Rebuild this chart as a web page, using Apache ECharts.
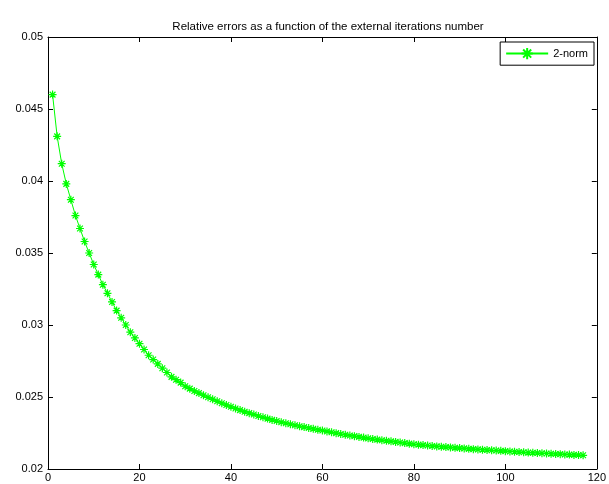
<!DOCTYPE html>
<html>
<head>
<meta charset="utf-8">
<script src="https://cdn.jsdelivr.net/npm/echarts@6/dist/echarts.min.js"></script>
<style>html,body{margin:0;padding:0;background:#fff}#c{width:609px;height:484px}</style>
</head>
<body>
<div id="c"></div>
<script>
var titleText = 'Relative errors as a function of the external iterations number';
var seriesName = '2-norm';
var iterations = [];
for (var i = 1; i <= 117; i++) iterations.push(i);
var errors2norm = [
0.0460,0.0431,0.0412,0.0398,0.0387,0.0376,0.0367,0.0358,0.0350,0.0342,
0.0335,0.0328,0.0322,0.0316,0.0310,0.0305,0.0300,0.0295,0.0291,0.0287,
0.0283,0.0279,0.0276,0.0273,0.0270,0.0267,0.0264,0.0262,0.0260,0.02575,
0.02558,0.02542,0.02527,0.02512,0.02498,0.02484,0.02470,0.02457,0.02444,0.02432,
0.02420,0.02409,0.02398,0.02388,0.02378,0.02368,0.02359,0.02350,0.02341,0.02333,
0.02325,0.02318,0.02311,0.02304,0.02297,0.02291,0.02285,0.02279,0.02273,0.02267,
0.02261,0.02255,0.02249,0.02243,0.02238,0.02233,0.02228,0.02223,0.02218,0.02213,
0.02208,0.02204,0.02200,0.02196,0.02192,0.02188,0.02184,0.02180,0.02176,0.02172,
0.02169,0.02166,0.02163,0.02160,0.02157,0.02155,0.02152,0.02150,0.02147,0.02145,
0.02143,0.02140,0.02138,0.02136,0.02134,0.02132,0.02130,0.02128,0.02126,0.02124,
0.02122,0.02120,0.02118,0.02116,0.02114,0.02113,0.02111,0.02109,0.02108,0.02106,
0.02104,0.02103,0.02101,0.02100,0.02098,0.02097,0.02095
];
var xMin = 0, xMax = 120, xStep = 20;
var yMin = 0.02, yMax = 0.05, yStep = 0.005;

var pts = iterations.map(function (x, k) { return [x, errors2norm[k]]; });
var star = 'path://M0,-5L0,5M-5,0L5,0M-3.6,-3.6L3.6,3.6M-3.6,3.6L3.6,-3.6';
var FONT = 'Liberation Sans';
var axisCommon = {
  axisLine: { show: true, onZero: false, lineStyle: { color: '#000', width: 1 } },
  axisTick: { show: true, inside: true, length: 5, lineStyle: { color: '#000' } },
  splitLine: { show: false }
};
function ax(extra) { var o = JSON.parse(JSON.stringify(axisCommon)); for (var k in extra) o[k] = extra[k]; return o; }

var chart = echarts.init(document.getElementById('c'), null, { renderer: 'canvas' });
chart.setOption({
  animation: false,
  backgroundColor: '#fff',
  title: {
    text: titleText, left: 323, top: 16, textAlign: 'center',
    textStyle: { fontFamily: FONT, fontSize: 11.5, fontWeight: 'normal', color: '#000' }
  },
  legend: {
    data: [{ name: seriesName }],
    right: 15, top: 42, orient: 'vertical',
    backgroundColor: '#fff', borderColor: '#000', borderWidth: 1, borderRadius: 0,
    padding: [5, 6, 5, 5], itemWidth: 42, itemHeight: 14, itemGap: 4,
    textStyle: { fontFamily: FONT, fontSize: 11, color: '#000' }
  },
  grid: { left: 48, right: 10, top: 37, bottom: 15 },
  xAxis: [
    ax({ type: 'value', min: xMin, max: xMax, interval: xStep, position: 'bottom',
      axisLabel: { show: true, color: '#000', fontFamily: FONT, fontSize: 11, margin: 3 } }),
    ax({ type: 'value', min: xMin, max: xMax, interval: xStep, position: 'top',
      axisLabel: { show: false } })
  ],
  yAxis: [
    ax({ type: 'value', min: yMin, max: yMax, interval: yStep, position: 'left',
      axisLabel: { show: true, color: '#000', fontFamily: FONT, fontSize: 11, margin: 5,
        formatter: function (v) { return String(+v.toFixed(3)); } } }),
    ax({ type: 'value', min: yMin, max: yMax, interval: yStep, position: 'right',
      axisLabel: { show: false } })
  ],
  series: [{
    name: seriesName, type: 'line', data: pts, xAxisIndex: 0, yAxisIndex: 0,
    symbol: star, symbolSize: 8, showSymbol: true,
    lineStyle: { color: '#00ff00', width: 1 },
    itemStyle: { color: '#00ff00', borderColor: '#00ff00', borderWidth: 1.2 }
  }]
});
</script>
</body>
</html>
